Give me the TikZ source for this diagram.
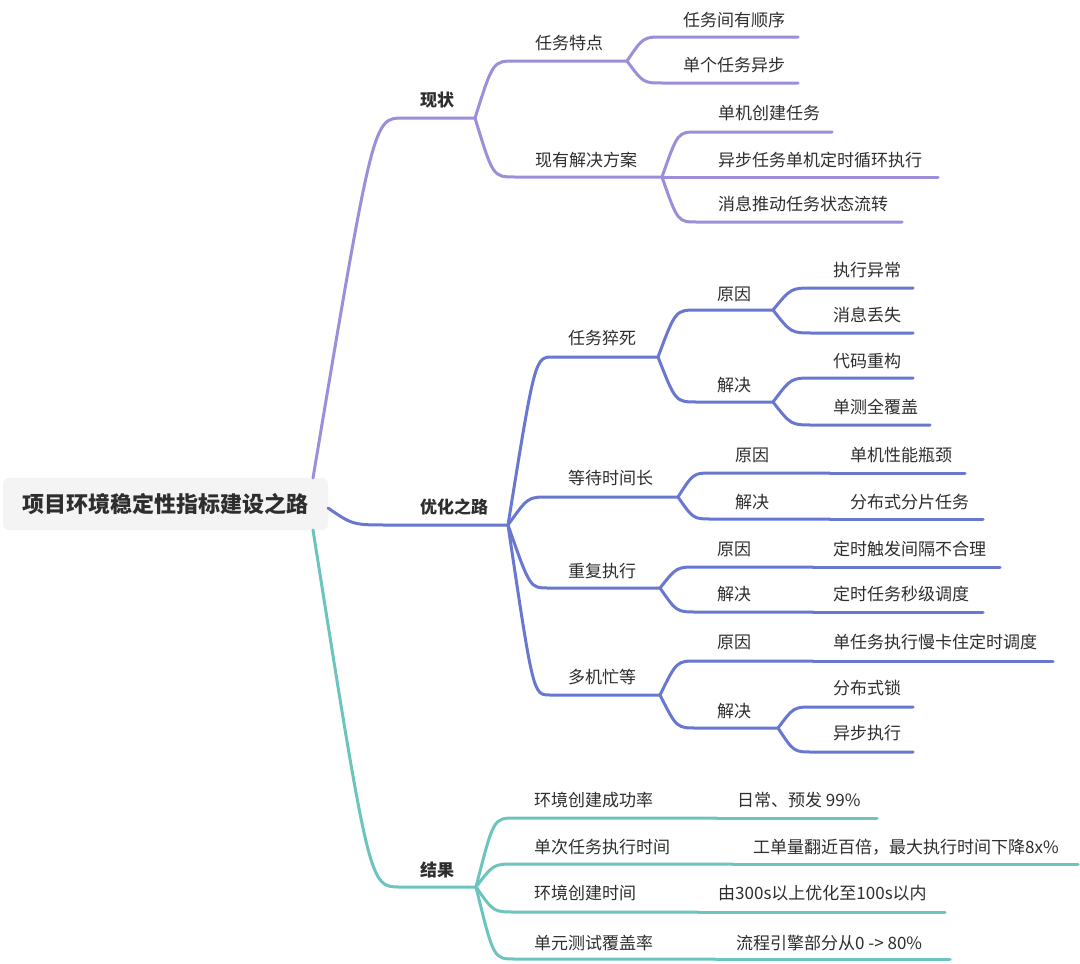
\documentclass[tikz,border=0pt]{standalone}
\usepackage{fontspec}
\setmainfont{Noto Sans CJK SC}
\usetikzlibrary{calc}
\definecolor{cpur}{HTML}{9E8EDA}
\definecolor{cblu}{HTML}{6878D0}
\definecolor{ctea}{HTML}{6CC4BE}
\definecolor{ctxt}{HTML}{2E2E2E}
\definecolor{cbox}{HTML}{F4F4F4}
% connector: [ratio]{style}{parent point}{child}
\newcommand\mmconn[4][0.45]{\draw[#2] (#3) .. controls ($(#3 |- #4-s)!#1!(#4-s)$) .. (#4-s) -- (#4-e);}
% node: [style]{name}{text x}{text y}{line start x}{line end x}{line y}{text}
\newcommand\mmnode[8][]{\node[lbl,#1] (t-#2) at (#3,#4) {#8};
  \coordinate (#2-s) at (#5,#7); \coordinate (#2-e) at (#6,#7);}
\begin{document}
\begin{tikzpicture}[x=1pt,y=-1pt,
  lbl/.style={anchor=west, inner sep=0pt, text=ctxt, font=\fontsize{17}{20}\selectfont, text height=15pt, text depth=2pt},
  lvone/.style={font=\bfseries\fontsize{17}{20}\selectfont},
  wire/.style={line width=3pt, line cap=round},
  pur/.style={wire, draw=cpur},
  blu/.style={wire, draw=cblu},
  tea/.style={wire, draw=ctea}]
\fill[white] (0,0) rectangle (1080,964);
\useasboundingbox (0,0) rectangle (1080,964);

% root
\node[fill=cbox, rounded corners=6pt, minimum width=325pt, minimum height=52pt, inner sep=0pt,
  text=ctxt, font=\bfseries\fontsize{22}{26}\selectfont, text height=19.4pt, text depth=2.6pt]
  (root) at (165.5,504) {项目环境稳定性指标建设之路};
\coordinate (rtop) at (313,478);
\coordinate (rright) at (328,508);
\coordinate (rbot) at (313,530);

% level 1
\mmnode[lvone]{xz}{420}{100}{403}{475}{118}{现状}
\mmnode[lvone]{yh}{420}{507}{390}{508}{525}{优化之路}
\mmnode[lvone]{jg}{420}{870}{400}{476}{887}{结果}

% 现状
\mmnode{xz1}{535}{43}{515}{627}{61}{任务特点}
\mmnode{xz2}{535}{160}{515}{662}{177}{现有解决方案}
\mmnode{xz11}{683}{20}{663}{798}{37}{任务间有顺序}
\mmnode{xz12}{683}{65}{663}{798}{83}{单个任务异步}
\mmnode{xz21}{718}{113}{697}{832}{132}{单机创建任务}
\mmnode{xz22}{718}{160}{697}{938}{177}{异步任务单机定时循环执行}
\mmnode{xz23}{718}{204}{697}{902}{222}{消息推动任务状态流转}

% 优化之路
\mmnode{yh1}{568}{338}{553}{658}{357}{任务猝死}
\mmnode{yh2}{568}{478}{548}{678}{497}{等待时间长}
\mmnode{yh3}{568}{571}{548}{660}{588}{重复执行}
\mmnode{yh4}{568}{677}{550}{660}{695}{多机忙等}

\mmnode{yh11}{717}{294}{697}{773}{310}{原因}
\mmnode{yh12}{717}{385}{697}{773}{402}{解决}
\mmnode{yh111}{833}{270}{813}{913}{288}{执行异常}
\mmnode{yh112}{833}{315}{813}{913}{333}{消息丢失}
\mmnode{yh121}{833}{361}{813}{913}{378}{代码重构}
\mmnode{yh122}{833}{407}{813}{930}{425}{单测全覆盖}

\mmnode{yh21}{735}{455}{712}{830}{473}{原因}
\mmnode{yh211}{850}{455}{830}{965}{473}{单机性能瓶颈}
\mmnode{yh22}{735}{502}{712}{830}{519}{解决}
\mmnode{yh221}{850}{502}{830}{983}{519}{分布式分片任务}

\mmnode{yh31}{717}{549}{697}{813}{567}{原因}
\mmnode{yh311}{833}{549}{813}{1000}{567}{定时触发间隔不合理}
\mmnode{yh32}{717}{594}{697}{813}{612}{解决}
\mmnode{yh321}{833}{594}{813}{983}{612}{定时任务秒级调度}

\mmnode{yh41}{717}{642}{697}{813}{661}{原因}
\mmnode{yh411}{833}{642}{813}{1053}{661}{单任务执行慢卡住定时调度}
\mmnode{yh42}{717}{711}{697}{778}{728}{解决}
\mmnode{yh421}{833}{688}{813}{913}{707}{分布式锁}
\mmnode{yh422}{833}{733}{813}{913}{752}{异步执行}

% 结果
\mmnode{jg1}{534}{800}{515}{717}{818}{环境创建成功率}
\mmnode{jg11}{737}{800}{717}{877}{818}{日常、预发 99\%}
\mmnode{jg2}{534}{847}{515}{733}{864}{单次任务执行时间}
\mmnode{jg21}{753}{847}{733}{1078}{864}{工单量翻近百倍，最大执行时间下降8x\%}
\mmnode{jg3}{534}{893}{515}{698}{912}{环境创建时间}
\mmnode{jg31}{718}{893}{698}{945}{912}{由300s以上优化至100s以内}
\mmnode{jg4}{534}{943}{515}{716}{959}{单元测试覆盖率}
\mmnode{jg41}{736}{943}{716}{950}{959}{流程引擎部分从0 -> 80\%}

% connectors
\begin{scope}[on background layer/.style={}]
\mmconn[0.67]{pur}{rtop}{xz}
\mmconn[0.4]{blu}{rright}{yh}
\mmconn[0.65]{tea}{rbot}{jg}

\mmconn{pur}{xz-e}{xz1}
\mmconn{pur}{xz-e}{xz2}
\mmconn{pur}{xz1-e}{xz11}
\mmconn{pur}{xz1-e}{xz12}
\mmconn{pur}{xz2-e}{xz21}
\mmconn{pur}{xz2-e}{xz22}
\mmconn{pur}{xz2-e}{xz23}

\mmconn[0.6]{blu}{yh-e}{yh1}
\mmconn[0.5]{blu}{yh-e}{yh2}
\mmconn[0.55]{blu}{yh-e}{yh3}
\mmconn[0.6]{blu}{yh-e}{yh4}
\mmconn{blu}{yh1-e}{yh11}
\mmconn{blu}{yh1-e}{yh12}
\mmconn{blu}{yh11-e}{yh111}
\mmconn{blu}{yh11-e}{yh112}
\mmconn{blu}{yh12-e}{yh121}
\mmconn{blu}{yh12-e}{yh122}
\mmconn{blu}{yh2-e}{yh21}
\mmconn{blu}{yh21-e}{yh211}
\mmconn{blu}{yh2-e}{yh22}
\mmconn{blu}{yh22-e}{yh221}
\mmconn{blu}{yh3-e}{yh31}
\mmconn{blu}{yh31-e}{yh311}
\mmconn{blu}{yh3-e}{yh32}
\mmconn{blu}{yh32-e}{yh321}
\mmconn{blu}{yh4-e}{yh41}
\mmconn{blu}{yh41-e}{yh411}
\mmconn{blu}{yh4-e}{yh42}
\mmconn{blu}{yh42-e}{yh421}
\mmconn{blu}{yh42-e}{yh422}

\mmconn{tea}{jg-e}{jg1}
\mmconn{tea}{jg1-e}{jg11}
\mmconn{tea}{jg-e}{jg2}
\mmconn{tea}{jg2-e}{jg21}
\mmconn{tea}{jg-e}{jg3}
\mmconn{tea}{jg3-e}{jg31}
\mmconn{tea}{jg-e}{jg4}
\mmconn{tea}{jg4-e}{jg41}
\end{scope}
\end{tikzpicture}
\end{document}
